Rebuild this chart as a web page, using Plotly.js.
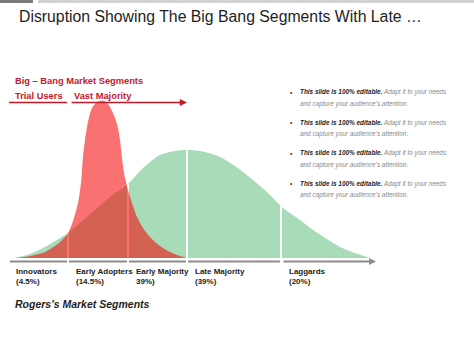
<!DOCTYPE html>
<html>
<head>
<meta charset="utf-8">
<script src="https://cdn.plot.ly/plotly-3.0.1.min.js"></script>
<style>html,body{margin:0;padding:0;background:#fff;}#chart{width:474px;height:355px;}</style>
</head>
<body>
<div id="chart"></div>
<script>
// Data (x = position along the adoption axis, y = curve height)
const rogersX = [15, 30, 45, 60, 68, 80, 95, 110, 128, 143, 160, 175, 190, 205, 220, 235, 253, 268, 282, 300, 313, 327, 340, 355, 370];
const rogersY = [0, 4, 11, 20, 25, 35, 48, 61, 74, 90, 103, 107, 108, 106, 101, 92, 78, 65, 51, 38, 28, 19, 11, 5, 0];

const bigBangX = [15, 30, 45, 60, 68, 73, 78, 81, 83, 85, 88, 92, 96, 100, 104, 108, 112, 115, 118, 120, 122, 124, 128, 133, 137, 143, 150, 160, 170, 180, 187];
const bigBangY = [0, 2, 6, 16, 25, 37, 55, 75, 101, 118, 136, 150, 155, 157, 157, 154, 147, 140, 130, 118, 100, 85, 68, 52, 41, 30, 21, 12, 6, 2, 0];

const segmentBounds = [68, 128, 187, 281];
const segmentNames = ["Innovators", "Early Adopters", "Early Majority", "Late Majority", "Laggards"];
const segmentShares = ["(4.5%)", "(14.5%)", "39%)", "(39%)", "(20%)"];
const segmentLabelX = [14, 74, 134, 193, 287];

const bulletBold = "This slide is 100% editable.";
const bulletRest = " Adapt it to your needs";
const bulletLine2 = "and capture your audience's attention.";
const bulletCount = 4;

const titleText = "Disruption Showing The Big Bang Segments With Late \u2026";
const bigBangTitle = "Big \u2013 Bang Market Segments";
const bigBangGroups = ["Trial Users", "Vast Majority"];
const footerText = "Rogers's Market Segments";

// ---------- helpers ----------
const W = 474, H = 355;
const px = x => x / W;
const py = y => 1 - y / H;
function interp(xs, ys, x) {
  for (let i = 0; i < xs.length - 1; i++) {
    if (x >= xs[i] && x <= xs[i + 1]) {
      const t = (x - xs[i]) / (xs[i + 1] - xs[i]);
      return ys[i] + t * (ys[i + 1] - ys[i]);
    }
  }
  return 0;
}

const traces = [];
traces.push({
  x: rogersX, y: rogersY, type: 'scatter', mode: 'lines',
  line: {width: 0, shape: 'spline', smoothing: 0.8, color: '#a8dcb8'},
  fill: 'tozeroy', fillcolor: '#a8dcb8', hoverinfo: 'skip'
});
segmentBounds.forEach(b => {
  traces.push({
    x: [b, b], y: [0, interp(rogersX, rogersY, b)], type: 'scatter', mode: 'lines',
    line: {color: '#ffffff', width: 2}, hoverinfo: 'skip'
  });
});
traces.push({
  x: bigBangX, y: bigBangY, type: 'scatter', mode: 'lines',
  line: {width: 0, shape: 'spline', smoothing: 0.8, color: 'rgba(245,10,10,0.58)'},
  fill: 'tozeroy', fillcolor: 'rgba(245,10,10,0.58)', hoverinfo: 'skip'
});

const red = '#c3192b';
const shapes = [];
const annotations = [];

// top bar
shapes.push({type: 'rect', xref: 'paper', yref: 'paper', x0: 0, x1: px(33), y0: py(3), y1: 1, line: {width: 0}, fillcolor: '#7b7b7b'});
shapes.push({type: 'rect', xref: 'paper', yref: 'paper', x0: px(38), x1: 1, y0: py(3), y1: 1, line: {width: 0}, fillcolor: '#d2d2d2'});

// baseline axis (segmented) with arrow
const axisStarts = [10].concat(segmentBounds.map(b => b + 1));
const axisEnds = segmentBounds.map(b => b - 1).concat([372]);
for (let i = 0; i < axisStarts.length - 1; i++) {
  shapes.push({type: 'line', xref: 'paper', yref: 'paper', x0: px(axisStarts[i]), x1: px(axisEnds[i]), y0: py(261.5), y1: py(261.5), line: {color: '#8c8c8c', width: 2}});
}
annotations.push({xref: 'paper', yref: 'paper', axref: 'pixel', ayref: 'pixel', x: px(376), y: py(261.5), ax: -(376 - axisStarts[axisStarts.length - 1]), ay: 0,
  showarrow: true, arrowhead: 2, arrowsize: 0.7, arrowwidth: 2, arrowcolor: '#8c8c8c', text: ''});

// red underline with arrow
shapes.push({type: 'line', xref: 'paper', yref: 'paper', x0: px(9), x1: px(67), y0: py(102.5), y1: py(102.5), line: {color: red, width: 1.6}});
annotations.push({xref: 'paper', yref: 'paper', x: px(187), y: py(102.5), ax: -(187 - 70), ay: 0,
  showarrow: true, arrowhead: 2, arrowsize: 0.9, arrowwidth: 1.6, arrowcolor: red, text: ''});

// title
annotations.push({xref: 'paper', yref: 'paper', x: px(17), y: py(16), xanchor: 'left', yanchor: 'middle', showarrow: false,
  text: titleText, font: {family: 'Liberation Sans, Arial, sans-serif', size: 15.8, color: '#1e1e1e'}});

// red headings
annotations.push({xref: 'paper', yref: 'paper', x: px(13), y: py(81), xanchor: 'left', yanchor: 'middle', showarrow: false,
  text: '<b>' + bigBangTitle + '</b>', font: {family: 'Liberation Sans, Arial, sans-serif', size: 9.3, color: red}});
annotations.push({xref: 'paper', yref: 'paper', x: px(13), y: py(96), xanchor: 'left', yanchor: 'middle', showarrow: false,
  text: '<b>' + bigBangGroups[0] + '</b>', font: {family: 'Liberation Sans, Arial, sans-serif', size: 9.3, color: red}});
annotations.push({xref: 'paper', yref: 'paper', x: px(72), y: py(96), xanchor: 'left', yanchor: 'middle', showarrow: false,
  text: '<b>' + bigBangGroups[1] + '</b>', font: {family: 'Liberation Sans, Arial, sans-serif', size: 9.3, color: red}});

// bullets
for (let i = 0; i < bulletCount; i++) {
  const y1 = 92 + i * 30.5;
  annotations.push({xref: 'paper', yref: 'paper', x: px(288), y: py(y1), xanchor: 'left', yanchor: 'middle', showarrow: false,
    text: '\u2022', font: {family: 'Liberation Sans, Arial, sans-serif', size: 6.5, color: '#333'}});
  annotations.push({xref: 'paper', yref: 'paper', x: px(298), y: py(y1), xanchor: 'left', yanchor: 'middle', showarrow: false,
    text: '<b><i>' + bulletBold + '</i></b><i><span style="color:#8a8a8a">' + bulletRest + '</span></i>',
    font: {family: 'Liberation Sans, Arial, sans-serif', size: 6.4, color: '#1e1e1e'}});
  annotations.push({xref: 'paper', yref: 'paper', x: px(298), y: py(y1 + 11.7), xanchor: 'left', yanchor: 'middle', showarrow: false,
    text: '<i>' + bulletLine2 + '</i>', font: {family: 'Liberation Sans, Arial, sans-serif', size: 6.4, color: '#8a8a8a'}});
}

// segment labels
segmentNames.forEach((n, i) => {
  annotations.push({xref: 'paper', yref: 'paper', x: px(segmentLabelX[i]), y: py(276.5), xanchor: 'left', yanchor: 'middle', showarrow: false, align: 'left',
    text: '<b>' + n + '<br>' + segmentShares[i] + '</b>',
    font: {family: 'Liberation Sans, Arial, sans-serif', size: 8, color: '#222'}});
});

// footer
annotations.push({xref: 'paper', yref: 'paper', x: px(13), y: py(303.5), xanchor: 'left', yanchor: 'middle', showarrow: false,
  text: '<b><i>' + footerText + '</i></b>', font: {family: 'Liberation Sans, Arial, sans-serif', size: 10.5, color: '#1e1e1e'}});

const layout = {
  width: W, height: H,
  margin: {l: 0, r: 0, t: 0, b: 0, pad: 0},
  paper_bgcolor: '#ffffff', plot_bgcolor: '#ffffff',
  showlegend: false,
  xaxis: {range: [0, W], visible: false, fixedrange: true},
  yaxis: {range: [258 - H, 258], visible: false, fixedrange: true},
  shapes: shapes,
  annotations: annotations
};

Plotly.newPlot('chart', traces, layout, {staticPlot: true, displayModeBar: false});
</script>
</body>
</html>
